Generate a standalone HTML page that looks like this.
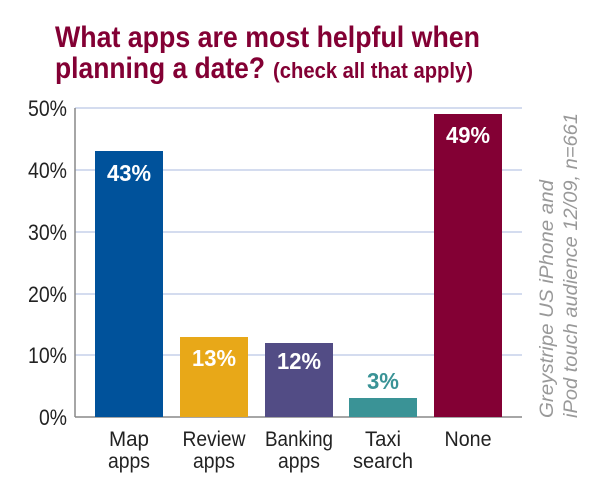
<!DOCTYPE html>
<html><head><meta charset="utf-8"><style>
body{margin:0;background:#fff;}
svg text{font-family:"Liberation Sans",sans-serif;}
</style></head><body>
<svg width="610" height="497" viewBox="0 0 610 497" xmlns="http://www.w3.org/2000/svg">
<text x="55" y="47" font-size="30" font-weight="bold" fill="#830034" textLength="425" lengthAdjust="spacingAndGlyphs">What apps are most helpful when</text>
<text x="55" y="78" font-size="30" font-weight="bold" fill="#830034" textLength="210" lengthAdjust="spacingAndGlyphs">planning a date?</text>
<text x="273" y="78" font-size="22" font-weight="bold" fill="#830034" textLength="200" lengthAdjust="spacingAndGlyphs">(check all that apply)</text>
<g stroke="#c5d0ea" stroke-width="1.5">
<line x1="75" y1="108" x2="522" y2="108"/><line x1="75" y1="170" x2="522" y2="170"/>
<line x1="75" y1="232" x2="522" y2="232"/><line x1="75" y1="294" x2="522" y2="294"/>
<line x1="75" y1="355" x2="522" y2="355"/>
</g>
<line x1="75" y1="108" x2="75" y2="417" stroke="#888" stroke-width="1.5"/>
<line x1="75" y1="417" x2="522" y2="417" stroke="#888" stroke-width="1.5"/>
<g font-size="22" fill="#222" text-anchor="end" lengthAdjust="spacingAndGlyphs">
<text x="67" y="116" textLength="39" lengthAdjust="spacingAndGlyphs">50%</text>
<text x="67" y="178" textLength="39" lengthAdjust="spacingAndGlyphs">40%</text>
<text x="67" y="240" textLength="39" lengthAdjust="spacingAndGlyphs">30%</text>
<text x="67" y="302" textLength="39" lengthAdjust="spacingAndGlyphs">20%</text>
<text x="67" y="363" textLength="39" lengthAdjust="spacingAndGlyphs">10%</text>
<text x="67" y="425" textLength="28" lengthAdjust="spacingAndGlyphs">0%</text>
</g>
<rect x="95" y="151" width="68" height="266" fill="#00529b"/>
<rect x="180" y="337" width="68" height="80" fill="#e8a818"/>
<rect x="265" y="343" width="68" height="74" fill="#524c85"/>
<rect x="349" y="398" width="68" height="19" fill="#3a9396"/>
<rect x="434" y="114" width="68" height="303" fill="#830034"/>
<g font-size="23" font-weight="bold" fill="#fff" text-anchor="middle">
<text x="129" y="181" textLength="44" lengthAdjust="spacingAndGlyphs">43%</text>
<text x="214" y="366" textLength="44" lengthAdjust="spacingAndGlyphs">13%</text>
<text x="299" y="369" textLength="44" lengthAdjust="spacingAndGlyphs">12%</text>
<text x="383" y="389" fill="#3a9396" textLength="32" lengthAdjust="spacingAndGlyphs">3%</text>
<text x="468" y="143" textLength="44" lengthAdjust="spacingAndGlyphs">49%</text>
</g>
<g font-size="21" fill="#222" text-anchor="middle">
<text x="129" y="446" textLength="40" lengthAdjust="spacingAndGlyphs">Map</text>
<text x="129" y="468" textLength="42" lengthAdjust="spacingAndGlyphs">apps</text>
<text x="214" y="446" textLength="63" lengthAdjust="spacingAndGlyphs">Review</text>
<text x="214" y="468" textLength="42" lengthAdjust="spacingAndGlyphs">apps</text>
<text x="299" y="446" textLength="68" lengthAdjust="spacingAndGlyphs">Banking</text>
<text x="299" y="468" textLength="42" lengthAdjust="spacingAndGlyphs">apps</text>
<text x="383" y="446" textLength="36" lengthAdjust="spacingAndGlyphs">Taxi</text>
<text x="383" y="468" textLength="60" lengthAdjust="spacingAndGlyphs">search</text>
<text x="468" y="446" textLength="47" lengthAdjust="spacingAndGlyphs">None</text>
</g>
<g font-size="19" font-style="italic" fill="#999">
<text transform="translate(553,418) rotate(-90)" textLength="238" lengthAdjust="spacingAndGlyphs">Greystripe US iPhone and</text>
<text transform="translate(577,418) rotate(-90)" textLength="305" lengthAdjust="spacingAndGlyphs">iPod touch audience 12/09, n=661</text>
</g>
</svg>
</body></html>
